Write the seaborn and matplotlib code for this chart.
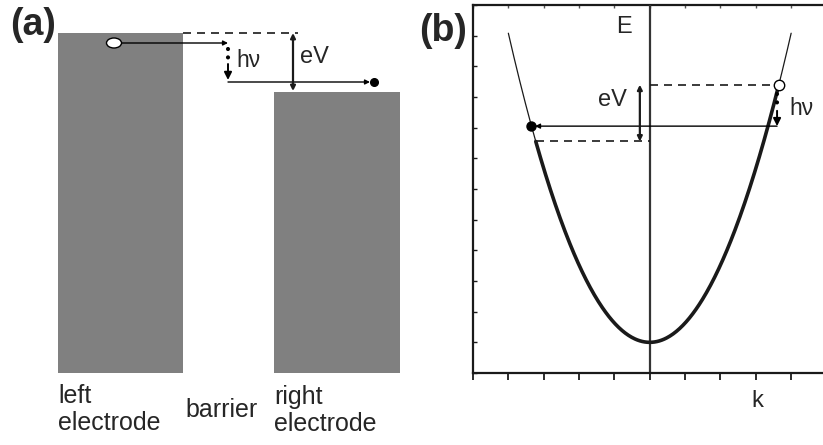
import numpy as np
import pandas as pd
import matplotlib
matplotlib.use("Agg")
import matplotlib.pyplot as plt
import seaborn as sns
from matplotlib.patches import Ellipse

sns.set_style("white")
plt.rcParams['font.family'] = ['Liberation Sans', 'DejaVu Sans']

# ---------------- data ----------------
# panel (a): schematic energy diagram (units: schematic pixels, y grows downward)
electrode_labels = ["left\nelectrode", "right\nelectrode"]
electrode_x0 = [58, 274]
electrode_x1 = [183, 400]
electrode_fermi = [33, 92]
electrode_bottom = 373
barrier_label = "barrier"

# panel (b): free-electron dispersion E = c k^2
k_ticks = [-5, -4, -3, -2, -1, 0, 1, 2, 3, 4, 5]
E_ticks = [-1, 0, 1, 2, 3, 4, 5, 6, 7, 8, 9, 10, 11]
curv = 0.63
k_range = [-4.0, 4.0]
E_low = 6.55     # right-electrode Fermi level
E_high = 8.4     # left-electrode Fermi level
E_final = 7.05   # final state after photon emission

dark = "#1a1a1a"
grey = "#808080"

fig = plt.figure(figsize=(8.23, 4.45), dpi=100)

# ---------------- panel (a) ----------------
axa = fig.add_axes([0, 0, 420 / 823, 1])
axa.set_xlim(0, 420)
axa.set_ylim(445, 0)
axa.axis("off")

centers = [(a + b) / 2 for a, b in zip(electrode_x0, electrode_x1)]
widths = [b - a for a, b in zip(electrode_x0, electrode_x1)]
heights = [electrode_bottom - f for f in electrode_fermi]
axa.bar(centers, heights, width=widths, bottom=electrode_fermi, color=grey, edgecolor="none")

# dashed line at left Fermi level
axa.plot([electrode_x1[0], 298], [electrode_fermi[0]] * 2, color=dark, lw=1.2, ls=(0, (4.8, 3.6)))

# electron (open ellipse) and tunnelling arrow
y_e = electrode_fermi[0] + 10
axa.add_patch(Ellipse((114, y_e), 15, 10, facecolor="white", edgecolor="black", lw=1.0, zorder=5))
axa.annotate("", xy=(228, y_e), xytext=(121, y_e),
             arrowprops=dict(arrowstyle="-|>", color="black", lw=1.0, mutation_scale=7,
                             shrinkA=0, shrinkB=0))
# dotted photon-emission arrow
axa.plot([228, 228], [49, 61], color="black", lw=3, ls=(0, (0.01, 2.0)), dash_capstyle="round")
axa.annotate("", xy=(228, 80), xytext=(228, 64),
             arrowprops=dict(arrowstyle="-|>", color="black", lw=1.4, mutation_scale=11,
                             shrinkA=0, shrinkB=0))
axa.text(236, 67, "h\u03bd", fontsize=16.5, ha="left", va="baseline")

# horizontal arrow to the right electrode, final state
y_f = electrode_fermi[1] - 10
axa.annotate("", xy=(370, y_f), xytext=(228, y_f),
             arrowprops=dict(arrowstyle="-|>", color="black", lw=1.0, mutation_scale=7,
                             shrinkA=0, shrinkB=0))
axa.plot([374], [y_f], marker="o", ms=5.5, color="black", mec="black")

# eV double arrow
axa.annotate("", xy=(293, electrode_fermi[1] - 1), xytext=(293, electrode_fermi[0]),
             arrowprops=dict(arrowstyle="<|-|>", color=dark, lw=1.6, mutation_scale=7,
                             shrinkA=0, shrinkB=0))
axa.text(300, 63, "eV", fontsize=17, ha="left", va="baseline")

# labels
axa.text(electrode_x0[0], 384, electrode_labels[0], fontsize=18, ha="left", va="top", linespacing=1.15)
axa.text(electrode_x0[1], 385, electrode_labels[1], fontsize=18, ha="left", va="top", linespacing=1.15)
axa.text(185, 417, barrier_label, fontsize=18, ha="left", va="baseline")

fig.text(33 / 823, 1 - 25 / 445, "(a)", fontsize=27, fontweight="bold", ha="center", va="center")
fig.text(443 / 823, 1 - 31 / 445, "(b)", fontsize=27, fontweight="bold", ha="center", va="center")

# ---------------- panel (b) ----------------
axb = fig.add_axes([473 / 823, (445 - 373) / 445, 353.5 / 823, 368 / 445])
axb.set_xlim(k_ticks[0], k_ticks[-1])
axb.set_ylim(E_ticks[0], E_ticks[-1])
axb.set_xticks(k_ticks)
axb.set_yticks(E_ticks)
axb.tick_params(axis="x", bottom=True, top=False, direction="out", length=5, width=1.3,
                color=dark, labelbottom=False)
axb.tick_params(axis="y", left=True, right=False, direction="in", length=3, width=1.0,
                color=dark, labelleft=False)
for s in ["left", "bottom"]:
    axb.spines[s].set_linewidth(1.6)
    axb.spines[s].set_color(dark)
axb.spines["right"].set_visible(False)
axb.spines["top"].set_visible(False)
sec = axb.secondary_xaxis("top")
sec.set_xticks(k_ticks)
sec.tick_params(axis="x", direction="in", length=2.5, width=1.0, color="#555555", labeltop=False)
sec.spines["top"].set_linewidth(1.6)
sec.spines["top"].set_color(dark)

axb.axvline(0, color="#333333", lw=1.6, zorder=1)

k_thin = np.linspace(k_range[0], k_range[1], 300)
k_thick = np.linspace(-np.sqrt(E_low / curv), np.sqrt(E_high / curv), 300)
df_thin = pd.DataFrame({"k": k_thin, "E": curv * k_thin ** 2})
df_thick = pd.DataFrame({"k": k_thick, "E": curv * k_thick ** 2})
sns.lineplot(data=df_thin, x="k", y="E", ax=axb, color=dark, lw=0.9, sort=False, estimator=None)
sns.lineplot(data=df_thick, x="k", y="E", ax=axb, color=dark, lw=2.6, sort=False, estimator=None)
axb.set_xlabel("")
axb.set_ylabel("")

k_hi = np.sqrt(E_high / curv)
k_lo = -np.sqrt(E_low / curv)
k_fin = -np.sqrt(E_final / curv)

# dashed Fermi-level lines
axb.plot([0, k_hi], [E_high, E_high], color=dark, lw=1.2, ls=(0, (4.8, 3.6)))
axb.plot([k_lo, 0], [E_low, E_low], color=dark, lw=1.2, ls=(0, (4.8, 3.6)))

# horizontal arrow to final state
axb.annotate("", xy=(k_fin + 0.1, E_final), xytext=(k_hi - 0.05, E_final),
             arrowprops=dict(arrowstyle="-|>", color="black", lw=1.0, mutation_scale=7,
                             shrinkA=0, shrinkB=0))
axb.plot([k_fin], [E_final], marker="o", ms=6.5, color="black", zorder=6)
axb.plot([k_hi], [E_high], marker="o", ms=7.5, mfc="white", mec="black", mew=1.0, zorder=6)

# dotted hv arrow
axb.plot([k_hi - 0.05, k_hi - 0.05], [E_high - 0.3, E_high - 0.8], color="black", lw=3,
         ls=(0, (0.01, 2.0)), dash_capstyle="round", zorder=6)
axb.annotate("", xy=(k_hi - 0.05, E_final), xytext=(k_hi - 0.05, E_final + 0.5),
             arrowprops=dict(arrowstyle="-|>", color="black", lw=1.4, mutation_scale=11,
                             shrinkA=0, shrinkB=0), zorder=6)
axb.text(3.95, 7.62, "h\u03bd", fontsize=16.5, ha="left", va="center")

# eV double arrow
axb.annotate("", xy=(-0.28, E_low), xytext=(-0.28, E_high),
             arrowprops=dict(arrowstyle="<|-|>", color=dark, lw=1.6, mutation_scale=7,
                             shrinkA=0, shrinkB=0))
axb.text(-1.05, 7.9, "eV", fontsize=17, ha="center", va="center")
axb.text(-0.74, 10.28, "E", fontsize=17, ha="center", va="center")
axb.text(3.05, -1.9, "k", fontsize=17, ha="center", va="center", clip_on=False)

fig.savefig("out.png", dpi=100)
